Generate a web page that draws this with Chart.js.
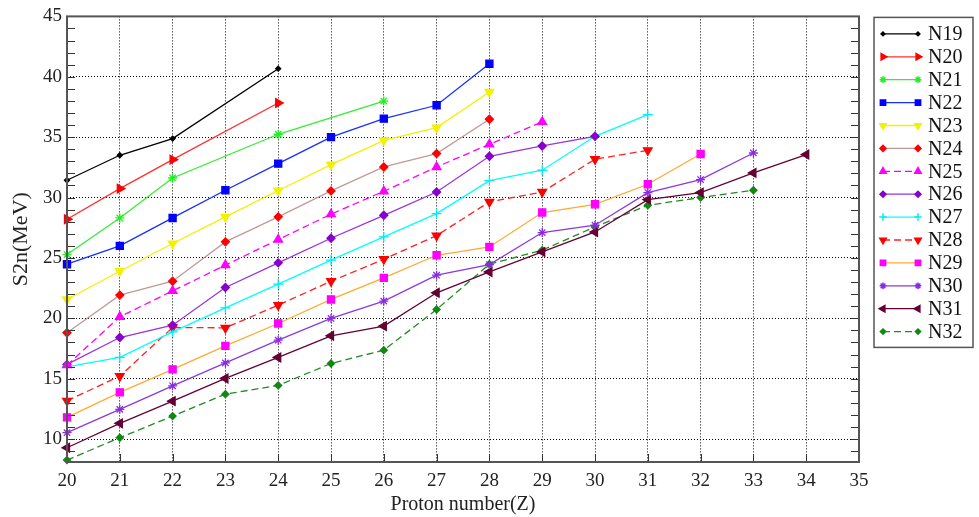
<!DOCTYPE html>
<html>
<head>
<meta charset="utf-8">
<script src="https://cdn.jsdelivr.net/npm/chart.js@4/dist/chart.umd.min.js"></script>
<style>
  html, body { margin: 0; padding: 0; background: #fff; }
  #wrap { width: 979px; height: 517px; }
</style>
</head>
<body>
<div id="wrap"><canvas id="grafico"></canvas></div>
<script>
// proton numbers on the x axis
const protonZ = [20, 21, 22, 23, 24, 25, 26, 27, 28, 29, 30, 31, 32, 33, 34]
const eixoX = [20, 21, 22, 23, 24, 25, 26, 27, 28, 29, 30, 31, 32, 33, 34, 35]
const eixoY = [10, 15, 20, 25, 30, 35, 40, 45]

// two-neutron separation energies (MeV), null where there is no point
const N19 = [31.43, 33.5, 34.88, null, 40.67]
const N20 = [28.2, 30.74, 33.14, null, 37.83]
const N21 = [25.28, 28.31, 31.62, null, 35.24, null, 37.99]
const N22 = [24.48, 26.0, 28.31, 30.6, 32.81, 35.0, 36.53, 37.64, 41.08]
const N23 = [21.56, 23.9, 26.19, 28.4, 30.58, 32.73, 34.74, 35.79, 38.74]
const N24 = [18.8, 21.92, 23.07, 26.33, 28.4, 30.55, 32.53, 33.64, 36.48]
const N25 = [16.12, 20.12, 22.27, 24.4, 26.52, 28.62, 30.52, 32.53, 34.41, 36.26]
const N26 = [16.18, 18.41, 19.43, 22.55, 24.59, 26.63, 28.53, 30.46, 33.42, 34.27, 35.07]
const N27 = [15.98, 16.76, 18.88, 20.87, 22.83, 24.81, 26.74, 28.67, 31.4, 32.26, 35.07, 36.87]
const N28 = [13.17, 15.21, 19.24, 19.21, 21.09, 23.07, 24.89, 26.85, 29.64, 30.46, 33.17, 33.91]
const N29 = [11.8, 13.87, 15.77, 17.72, 19.57, 21.56, 23.35, 25.22, 25.91, 28.76, 29.44, 31.1, 33.61]
const N30 = [10.53, 12.46, 14.41, 16.31, 18.19, 19.99, 21.42, 23.57, 24.45, 27.1, 27.71, 30.41, 31.49, 33.69]
const N31 = [9.28, 11.3, 13.14, 15.02, 16.76, 18.55, 19.35, 22.11, 23.84, 25.5, 27.15, 29.83, 30.41, 32.04, 33.56]
const N32 = [8.26, 10.11, 11.9, 13.72, 14.44, 16.26, 17.36, 20.73, 24.48, 25.64, 27.57, 29.36, 30.0, 30.6]

const serie = (nome, valores, linha, marca, estilo, raio, rot, tracejado) => ({
    label: nome,
    data: valores.map((v, i) => ({ x: protonZ[i], y: v })).filter(p => p.y !== null),
    borderColor: linha,
    borderWidth: 1.3,
    borderDash: tracejado ? [7, 4] : [],
    pointStyle: estilo,
    pointRadius: raio,
    pointRotation: rot,
    pointBackgroundColor: marca,
    pointBorderColor: marca,
    pointBorderWidth: 1.3,
    clip: false,
    tension: 0,
})

const series = [
    serie('N19', N19, '#000000', '#000000', 'rectRot', 2.5, 0, false),
    serie('N20', N20, '#ff3030', '#ff0000', 'triangle', 5, 90, false),
    serie('N21', N21, '#33ee33', '#22ee22', 'star', 4.5, 0, false),
    serie('N22', N22, '#1530ff', '#0000ff', 'rect', 5, 0, false),
    serie('N23', N23, '#f2f200', '#f2f200', 'triangle', 5, 180, false),
    serie('N24', N24, '#c09a98', '#ff0000', 'rectRot', 4, 0, false),
    serie('N25', N25, '#ff00ff', '#ff00ff', 'triangle', 5, 0, true),
    serie('N26', N26, '#9933dd', '#8800cc', 'rectRot', 4, 0, false),
    serie('N27', N27, '#00ffff', '#00eeee', 'cross', 5, 0, false),
    serie('N28', N28, '#ff2020', '#ff0000', 'triangle', 5, 180, true),
    serie('N29', N29, '#ffaa33', '#ff00ff', 'rect', 5, 0, false),
    serie('N30', N30, '#8a3ae0', '#8a2be2', 'star', 4.5, 0, false),
    serie('N31', N31, '#660033', '#660033', 'triangle', 5, 270, false),
    serie('N32', N32, '#228b22', '#118811', 'rectRot', 3.5, 0, true),
]

const fonte = "'Liberation Serif', 'DejaVu Serif', serif"

// frame around the plot area plus the small inward ticks
const moldura = {
    id: 'moldura',
    afterDraw(chart) {
        const { ctx, chartArea: a, scales } = chart
        ctx.save()
        ctx.strokeStyle = '#333'
        ctx.lineWidth = 1
        for (let v = 9; v <= 45; v++) {
            const y = Math.round(scales.y.getPixelForValue(v)) + 0.5
            ctx.beginPath()
            ctx.moveTo(a.left, y); ctx.lineTo(a.left + 8, y)
            ctx.moveTo(a.right, y); ctx.lineTo(a.right - 8, y)
            ctx.stroke()
        }
        for (let v = 20; v <= 35; v++) {
            const x = Math.round(scales.x.getPixelForValue(v)) + 0.5
            ctx.beginPath()
            ctx.moveTo(x, a.bottom); ctx.lineTo(x, a.bottom - 8)
            ctx.stroke()
        }
        ctx.strokeStyle = '#555'
        ctx.lineWidth = 2
        ctx.strokeRect(a.left, a.top, a.right - a.left, a.bottom - a.top)
        ctx.restore()
    }
}

// boxed legend to the right, line sample with a marker at each end
const legenda = {
    id: 'legenda',
    afterDraw(chart) {
        const { ctx, chartArea: a } = chart
        const x0 = a.right + 15
        const y0 = a.top + 1
        const passo = 22.9
        ctx.save()
        ctx.strokeStyle = '#555'
        ctx.lineWidth = 1.5
        ctx.strokeRect(x0, y0, 99, 330)
        chart.data.datasets.forEach((ds, i) => {
            const y = y0 + 16.5 + i * passo
            ctx.save()
            ctx.strokeStyle = ds.borderColor
            ctx.lineWidth = ds.borderWidth
            ctx.setLineDash(ds.borderDash)
            ctx.beginPath()
            ctx.moveTo(x0 + 9, y); ctx.lineTo(x0 + 44, y)
            ctx.stroke()
            ctx.restore()
            ctx.fillStyle = ds.pointBackgroundColor
            ctx.strokeStyle = ds.pointBorderColor
            const ponto = { pointStyle: ds.pointStyle, radius: ds.pointRadius * 0.75, rotation: ds.pointRotation, borderWidth: ds.pointBorderWidth }
            Chart.helpers.drawPoint(ctx, ponto, x0 + 9, y)
            Chart.helpers.drawPoint(ctx, ponto, x0 + 44, y)
            ctx.fillStyle = '#111'
            ctx.font = '20px ' + fonte
            ctx.textBaseline = 'middle'
            ctx.fillText(ds.label, x0 + 54, y + 1)
        })
        ctx.restore()
    }
}

const config = {
    type: 'line',
    data: { datasets: series },
    options: {
        responsive: true,
        maintainAspectRatio: false,
        animation: false,
        layout: { padding: { left: 0, right: 120, top: 16, bottom: 0 } },
        plugins: { legend: { display: false }, tooltip: { enabled: false } },
        scales: {
            x: {
                type: 'linear',
                min: 20,
                max: 35,
                afterBuildTicks: (s) => { s.ticks = eixoX.map(v => ({ value: v })) },
                afterFit: (s) => { s.height = 55 },
                grid: { color: '#000', lineWidth: 1, drawTicks: false },
                border: { display: false, dash: [1, 2] },
                ticks: { color: '#222', padding: 8, font: { family: fonte, size: 19 } },
                title: { display: true, text: 'Proton number(Z)', color: '#222', padding: 0, font: { family: fonte, size: 20 } },
            },
            y: {
                min: 8.1,
                max: 45,
                afterBuildTicks: (s) => { s.ticks = eixoY.map(v => ({ value: v })) },
                afterFit: (s) => { s.width = 67 },
                grid: { color: '#000', lineWidth: 1, drawTicks: false },
                border: { display: false, dash: [1, 2] },
                ticks: { color: '#222', padding: 5, font: { family: fonte, size: 19 } },
                title: { display: true, text: 'S2n(MeV)', color: '#222', padding: { top: 8, bottom: 0 }, font: { family: fonte, size: 22 } },
            }
        }
    },
    plugins: [moldura, legenda]
}

const grafico = new Chart(document.getElementById('grafico'), config)
</script>
</body>
</html>
